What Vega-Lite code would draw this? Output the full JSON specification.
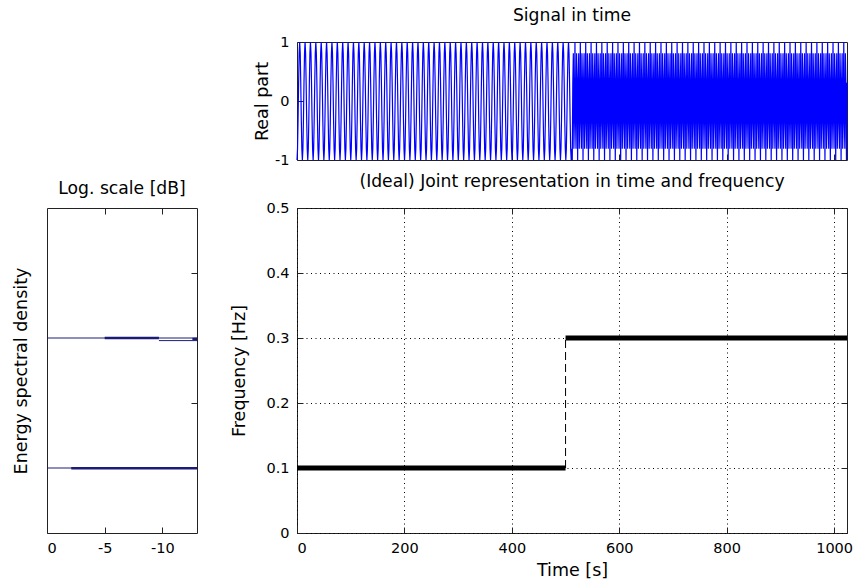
{
"$schema":"https://vega.github.io/schema/vega-lite/v6.json",
"background":"white",
"padding":{"left":11,"top":6,"right":0,"bottom":0},
"config":{
"font":"DejaVu Sans",
"view":{"stroke":"#222","strokeWidth":1},
"axis":{"domain":false,"tickColor":"#222","tickSize":-6,"labelPadding":14,"labelColor":"#000","labelFont":"DejaVu Sans","labelFontSize":14.5,"titleFont":"DejaVu Sans","titleFontSize":17.5,"titleFontWeight":"normal","titleColor":"#000","grid":false,"gridColor":"#000","gridDash":[1,3.5],"gridOpacity":1},
"title":{"font":"DejaVu Sans","fontSize":17.2,"fontWeight":"normal","color":"#000","offset":10}
},
"datasets":{
"ideal":[{"seg":"a","t":0,"f":0.1},{"seg":"a","t":500,"f":0.1},{"seg":"b","t":500,"f":0.3},{"seg":"b","t":1024,"f":0.3}],
"jump":[{"t":500,"f":0.1},{"t":500,"f":0.3}],
"esd_thin":[{"part":"a","db":0,"f":0.3},{"part":"a","db":-13,"f":0.3},{"part":"b","db":-9.7,"f":0.296},{"part":"b","db":-13,"f":0.296},{"part":"c","db":0,"f":0.1},{"part":"c","db":-13,"f":0.1}],
"esd_thick":[{"part":"a","db":-5,"f":0.3},{"part":"a","db":-9.7,"f":0.3},{"part":"b","db":-2.1,"f":0.0995},{"part":"b","db":-13,"f":0.0995},{"part":"c","db":-12.6,"f":0.2985},{"part":"c","db":-13,"f":0.2985}],
"sig":[
{"t":1,"v":-1},{"t":2,"v":-0.81},{"t":3,"v":-0.31},{"t":4,"v":0.31},{"t":5,"v":0.81},{"t":6,"v":1},{"t":7,"v":0.81},{"t":8,"v":0.31},{"t":9,"v":-0.31},{"t":10,"v":-0.81},
{"t":11,"v":-1},{"t":12,"v":-0.81},{"t":13,"v":-0.31},{"t":14,"v":0.31},{"t":15,"v":0.81},{"t":16,"v":1},{"t":17,"v":0.81},{"t":18,"v":0.31},{"t":19,"v":-0.31},{"t":20,"v":-0.81},
{"t":21,"v":-1},{"t":22,"v":-0.81},{"t":23,"v":-0.31},{"t":24,"v":0.31},{"t":25,"v":0.81},{"t":26,"v":1},{"t":27,"v":0.81},{"t":28,"v":0.31},{"t":29,"v":-0.31},{"t":30,"v":-0.81},
{"t":31,"v":-1},{"t":32,"v":-0.81},{"t":33,"v":-0.31},{"t":34,"v":0.31},{"t":35,"v":0.81},{"t":36,"v":1},{"t":37,"v":0.81},{"t":38,"v":0.31},{"t":39,"v":-0.31},{"t":40,"v":-0.81},
{"t":41,"v":-1},{"t":42,"v":-0.81},{"t":43,"v":-0.31},{"t":44,"v":0.31},{"t":45,"v":0.81},{"t":46,"v":1},{"t":47,"v":0.81},{"t":48,"v":0.31},{"t":49,"v":-0.31},{"t":50,"v":-0.81},
{"t":51,"v":-1},{"t":52,"v":-0.81},{"t":53,"v":-0.31},{"t":54,"v":0.31},{"t":55,"v":0.81},{"t":56,"v":1},{"t":57,"v":0.81},{"t":58,"v":0.31},{"t":59,"v":-0.31},{"t":60,"v":-0.81},
{"t":61,"v":-1},{"t":62,"v":-0.81},{"t":63,"v":-0.31},{"t":64,"v":0.31},{"t":65,"v":0.81},{"t":66,"v":1},{"t":67,"v":0.81},{"t":68,"v":0.31},{"t":69,"v":-0.31},{"t":70,"v":-0.81},
{"t":71,"v":-1},{"t":72,"v":-0.81},{"t":73,"v":-0.31},{"t":74,"v":0.31},{"t":75,"v":0.81},{"t":76,"v":1},{"t":77,"v":0.81},{"t":78,"v":0.31},{"t":79,"v":-0.31},{"t":80,"v":-0.81},
{"t":81,"v":-1},{"t":82,"v":-0.81},{"t":83,"v":-0.31},{"t":84,"v":0.31},{"t":85,"v":0.81},{"t":86,"v":1},{"t":87,"v":0.81},{"t":88,"v":0.31},{"t":89,"v":-0.31},{"t":90,"v":-0.81},
{"t":91,"v":-1},{"t":92,"v":-0.81},{"t":93,"v":-0.31},{"t":94,"v":0.31},{"t":95,"v":0.81},{"t":96,"v":1},{"t":97,"v":0.81},{"t":98,"v":0.31},{"t":99,"v":-0.31},{"t":100,"v":-0.81},
{"t":101,"v":-1},{"t":102,"v":-0.81},{"t":103,"v":-0.31},{"t":104,"v":0.31},{"t":105,"v":0.81},{"t":106,"v":1},{"t":107,"v":0.81},{"t":108,"v":0.31},{"t":109,"v":-0.31},{"t":110,"v":-0.81},
{"t":111,"v":-1},{"t":112,"v":-0.81},{"t":113,"v":-0.31},{"t":114,"v":0.31},{"t":115,"v":0.81},{"t":116,"v":1},{"t":117,"v":0.81},{"t":118,"v":0.31},{"t":119,"v":-0.31},{"t":120,"v":-0.81},
{"t":121,"v":-1},{"t":122,"v":-0.81},{"t":123,"v":-0.31},{"t":124,"v":0.31},{"t":125,"v":0.81},{"t":126,"v":1},{"t":127,"v":0.81},{"t":128,"v":0.31},{"t":129,"v":-0.31},{"t":130,"v":-0.81},
{"t":131,"v":-1},{"t":132,"v":-0.81},{"t":133,"v":-0.31},{"t":134,"v":0.31},{"t":135,"v":0.81},{"t":136,"v":1},{"t":137,"v":0.81},{"t":138,"v":0.31},{"t":139,"v":-0.31},{"t":140,"v":-0.81},
{"t":141,"v":-1},{"t":142,"v":-0.81},{"t":143,"v":-0.31},{"t":144,"v":0.31},{"t":145,"v":0.81},{"t":146,"v":1},{"t":147,"v":0.81},{"t":148,"v":0.31},{"t":149,"v":-0.31},{"t":150,"v":-0.81},
{"t":151,"v":-1},{"t":152,"v":-0.81},{"t":153,"v":-0.31},{"t":154,"v":0.31},{"t":155,"v":0.81},{"t":156,"v":1},{"t":157,"v":0.81},{"t":158,"v":0.31},{"t":159,"v":-0.31},{"t":160,"v":-0.81},
{"t":161,"v":-1},{"t":162,"v":-0.81},{"t":163,"v":-0.31},{"t":164,"v":0.31},{"t":165,"v":0.81},{"t":166,"v":1},{"t":167,"v":0.81},{"t":168,"v":0.31},{"t":169,"v":-0.31},{"t":170,"v":-0.81},
{"t":171,"v":-1},{"t":172,"v":-0.81},{"t":173,"v":-0.31},{"t":174,"v":0.31},{"t":175,"v":0.81},{"t":176,"v":1},{"t":177,"v":0.81},{"t":178,"v":0.31},{"t":179,"v":-0.31},{"t":180,"v":-0.81},
{"t":181,"v":-1},{"t":182,"v":-0.81},{"t":183,"v":-0.31},{"t":184,"v":0.31},{"t":185,"v":0.81},{"t":186,"v":1},{"t":187,"v":0.81},{"t":188,"v":0.31},{"t":189,"v":-0.31},{"t":190,"v":-0.81},
{"t":191,"v":-1},{"t":192,"v":-0.81},{"t":193,"v":-0.31},{"t":194,"v":0.31},{"t":195,"v":0.81},{"t":196,"v":1},{"t":197,"v":0.81},{"t":198,"v":0.31},{"t":199,"v":-0.31},{"t":200,"v":-0.81},
{"t":201,"v":-1},{"t":202,"v":-0.81},{"t":203,"v":-0.31},{"t":204,"v":0.31},{"t":205,"v":0.81},{"t":206,"v":1},{"t":207,"v":0.81},{"t":208,"v":0.31},{"t":209,"v":-0.31},{"t":210,"v":-0.81},
{"t":211,"v":-1},{"t":212,"v":-0.81},{"t":213,"v":-0.31},{"t":214,"v":0.31},{"t":215,"v":0.81},{"t":216,"v":1},{"t":217,"v":0.81},{"t":218,"v":0.31},{"t":219,"v":-0.31},{"t":220,"v":-0.81},
{"t":221,"v":-1},{"t":222,"v":-0.81},{"t":223,"v":-0.31},{"t":224,"v":0.31},{"t":225,"v":0.81},{"t":226,"v":1},{"t":227,"v":0.81},{"t":228,"v":0.31},{"t":229,"v":-0.31},{"t":230,"v":-0.81},
{"t":231,"v":-1},{"t":232,"v":-0.81},{"t":233,"v":-0.31},{"t":234,"v":0.31},{"t":235,"v":0.81},{"t":236,"v":1},{"t":237,"v":0.81},{"t":238,"v":0.31},{"t":239,"v":-0.31},{"t":240,"v":-0.81},
{"t":241,"v":-1},{"t":242,"v":-0.81},{"t":243,"v":-0.31},{"t":244,"v":0.31},{"t":245,"v":0.81},{"t":246,"v":1},{"t":247,"v":0.81},{"t":248,"v":0.31},{"t":249,"v":-0.31},{"t":250,"v":-0.81},
{"t":251,"v":-1},{"t":252,"v":-0.81},{"t":253,"v":-0.31},{"t":254,"v":0.31},{"t":255,"v":0.81},{"t":256,"v":1},{"t":257,"v":0.81},{"t":258,"v":0.31},{"t":259,"v":-0.31},{"t":260,"v":-0.81},
{"t":261,"v":-1},{"t":262,"v":-0.81},{"t":263,"v":-0.31},{"t":264,"v":0.31},{"t":265,"v":0.81},{"t":266,"v":1},{"t":267,"v":0.81},{"t":268,"v":0.31},{"t":269,"v":-0.31},{"t":270,"v":-0.81},
{"t":271,"v":-1},{"t":272,"v":-0.81},{"t":273,"v":-0.31},{"t":274,"v":0.31},{"t":275,"v":0.81},{"t":276,"v":1},{"t":277,"v":0.81},{"t":278,"v":0.31},{"t":279,"v":-0.31},{"t":280,"v":-0.81},
{"t":281,"v":-1},{"t":282,"v":-0.81},{"t":283,"v":-0.31},{"t":284,"v":0.31},{"t":285,"v":0.81},{"t":286,"v":1},{"t":287,"v":0.81},{"t":288,"v":0.31},{"t":289,"v":-0.31},{"t":290,"v":-0.81},
{"t":291,"v":-1},{"t":292,"v":-0.81},{"t":293,"v":-0.31},{"t":294,"v":0.31},{"t":295,"v":0.81},{"t":296,"v":1},{"t":297,"v":0.81},{"t":298,"v":0.31},{"t":299,"v":-0.31},{"t":300,"v":-0.81},
{"t":301,"v":-1},{"t":302,"v":-0.81},{"t":303,"v":-0.31},{"t":304,"v":0.31},{"t":305,"v":0.81},{"t":306,"v":1},{"t":307,"v":0.81},{"t":308,"v":0.31},{"t":309,"v":-0.31},{"t":310,"v":-0.81},
{"t":311,"v":-1},{"t":312,"v":-0.81},{"t":313,"v":-0.31},{"t":314,"v":0.31},{"t":315,"v":0.81},{"t":316,"v":1},{"t":317,"v":0.81},{"t":318,"v":0.31},{"t":319,"v":-0.31},{"t":320,"v":-0.81},
{"t":321,"v":-1},{"t":322,"v":-0.81},{"t":323,"v":-0.31},{"t":324,"v":0.31},{"t":325,"v":0.81},{"t":326,"v":1},{"t":327,"v":0.81},{"t":328,"v":0.31},{"t":329,"v":-0.31},{"t":330,"v":-0.81},
{"t":331,"v":-1},{"t":332,"v":-0.81},{"t":333,"v":-0.31},{"t":334,"v":0.31},{"t":335,"v":0.81},{"t":336,"v":1},{"t":337,"v":0.81},{"t":338,"v":0.31},{"t":339,"v":-0.31},{"t":340,"v":-0.81},
{"t":341,"v":-1},{"t":342,"v":-0.81},{"t":343,"v":-0.31},{"t":344,"v":0.31},{"t":345,"v":0.81},{"t":346,"v":1},{"t":347,"v":0.81},{"t":348,"v":0.31},{"t":349,"v":-0.31},{"t":350,"v":-0.81},
{"t":351,"v":-1},{"t":352,"v":-0.81},{"t":353,"v":-0.31},{"t":354,"v":0.31},{"t":355,"v":0.81},{"t":356,"v":1},{"t":357,"v":0.81},{"t":358,"v":0.31},{"t":359,"v":-0.31},{"t":360,"v":-0.81},
{"t":361,"v":-1},{"t":362,"v":-0.81},{"t":363,"v":-0.31},{"t":364,"v":0.31},{"t":365,"v":0.81},{"t":366,"v":1},{"t":367,"v":0.81},{"t":368,"v":0.31},{"t":369,"v":-0.31},{"t":370,"v":-0.81},
{"t":371,"v":-1},{"t":372,"v":-0.81},{"t":373,"v":-0.31},{"t":374,"v":0.31},{"t":375,"v":0.81},{"t":376,"v":1},{"t":377,"v":0.81},{"t":378,"v":0.31},{"t":379,"v":-0.31},{"t":380,"v":-0.81},
{"t":381,"v":-1},{"t":382,"v":-0.81},{"t":383,"v":-0.31},{"t":384,"v":0.31},{"t":385,"v":0.81},{"t":386,"v":1},{"t":387,"v":0.81},{"t":388,"v":0.31},{"t":389,"v":-0.31},{"t":390,"v":-0.81},
{"t":391,"v":-1},{"t":392,"v":-0.81},{"t":393,"v":-0.31},{"t":394,"v":0.31},{"t":395,"v":0.81},{"t":396,"v":1},{"t":397,"v":0.81},{"t":398,"v":0.31},{"t":399,"v":-0.31},{"t":400,"v":-0.81},
{"t":401,"v":-1},{"t":402,"v":-0.81},{"t":403,"v":-0.31},{"t":404,"v":0.31},{"t":405,"v":0.81},{"t":406,"v":1},{"t":407,"v":0.81},{"t":408,"v":0.31},{"t":409,"v":-0.31},{"t":410,"v":-0.81},
{"t":411,"v":-1},{"t":412,"v":-0.81},{"t":413,"v":-0.31},{"t":414,"v":0.31},{"t":415,"v":0.81},{"t":416,"v":1},{"t":417,"v":0.81},{"t":418,"v":0.31},{"t":419,"v":-0.31},{"t":420,"v":-0.81},
{"t":421,"v":-1},{"t":422,"v":-0.81},{"t":423,"v":-0.31},{"t":424,"v":0.31},{"t":425,"v":0.81},{"t":426,"v":1},{"t":427,"v":0.81},{"t":428,"v":0.31},{"t":429,"v":-0.31},{"t":430,"v":-0.81},
{"t":431,"v":-1},{"t":432,"v":-0.81},{"t":433,"v":-0.31},{"t":434,"v":0.31},{"t":435,"v":0.81},{"t":436,"v":1},{"t":437,"v":0.81},{"t":438,"v":0.31},{"t":439,"v":-0.31},{"t":440,"v":-0.81},
{"t":441,"v":-1},{"t":442,"v":-0.81},{"t":443,"v":-0.31},{"t":444,"v":0.31},{"t":445,"v":0.81},{"t":446,"v":1},{"t":447,"v":0.81},{"t":448,"v":0.31},{"t":449,"v":-0.31},{"t":450,"v":-0.81},
{"t":451,"v":-1},{"t":452,"v":-0.81},{"t":453,"v":-0.31},{"t":454,"v":0.31},{"t":455,"v":0.81},{"t":456,"v":1},{"t":457,"v":0.81},{"t":458,"v":0.31},{"t":459,"v":-0.31},{"t":460,"v":-0.81},
{"t":461,"v":-1},{"t":462,"v":-0.81},{"t":463,"v":-0.31},{"t":464,"v":0.31},{"t":465,"v":0.81},{"t":466,"v":1},{"t":467,"v":0.81},{"t":468,"v":0.31},{"t":469,"v":-0.31},{"t":470,"v":-0.81},
{"t":471,"v":-1},{"t":472,"v":-0.81},{"t":473,"v":-0.31},{"t":474,"v":0.31},{"t":475,"v":0.81},{"t":476,"v":1},{"t":477,"v":0.81},{"t":478,"v":0.31},{"t":479,"v":-0.31},{"t":480,"v":-0.81},
{"t":481,"v":-1},{"t":482,"v":-0.81},{"t":483,"v":-0.31},{"t":484,"v":0.31},{"t":485,"v":0.81},{"t":486,"v":1},{"t":487,"v":0.81},{"t":488,"v":0.31},{"t":489,"v":-0.31},{"t":490,"v":-0.81},
{"t":491,"v":-1},{"t":492,"v":-0.81},{"t":493,"v":-0.31},{"t":494,"v":0.31},{"t":495,"v":0.81},{"t":496,"v":1},{"t":497,"v":0.81},{"t":498,"v":0.31},{"t":499,"v":-0.31},{"t":500,"v":-0.81},
{"t":501,"v":-1},{"t":502,"v":-0.81},{"t":503,"v":-0.31},{"t":504,"v":0.31},{"t":505,"v":0.81},{"t":506,"v":1},{"t":507,"v":0.81},{"t":508,"v":0.31},{"t":509,"v":-0.31},{"t":510,"v":-0.81},
{"t":511,"v":-1},{"t":512,"v":-0.81},
{"t":513,"v":-1},{"t":514,"v":0.31},{"t":515,"v":0.81},{"t":516,"v":-0.81},{"t":517,"v":-0.31},{"t":518,"v":1},{"t":519,"v":-0.31},{"t":520,"v":-0.81},{"t":521,"v":0.81},{"t":522,"v":0.31},
{"t":523,"v":-1},{"t":524,"v":0.31},{"t":525,"v":0.81},{"t":526,"v":-0.81},{"t":527,"v":-0.31},{"t":528,"v":1},{"t":529,"v":-0.31},{"t":530,"v":-0.81},{"t":531,"v":0.81},{"t":532,"v":0.31},
{"t":533,"v":-1},{"t":534,"v":0.31},{"t":535,"v":0.81},{"t":536,"v":-0.81},{"t":537,"v":-0.31},{"t":538,"v":1},{"t":539,"v":-0.31},{"t":540,"v":-0.81},{"t":541,"v":0.81},{"t":542,"v":0.31},
{"t":543,"v":-1},{"t":544,"v":0.31},{"t":545,"v":0.81},{"t":546,"v":-0.81},{"t":547,"v":-0.31},{"t":548,"v":1},{"t":549,"v":-0.31},{"t":550,"v":-0.81},{"t":551,"v":0.81},{"t":552,"v":0.31},
{"t":553,"v":-1},{"t":554,"v":0.31},{"t":555,"v":0.81},{"t":556,"v":-0.81},{"t":557,"v":-0.31},{"t":558,"v":1},{"t":559,"v":-0.31},{"t":560,"v":-0.81},{"t":561,"v":0.81},{"t":562,"v":0.31},
{"t":563,"v":-1},{"t":564,"v":0.31},{"t":565,"v":0.81},{"t":566,"v":-0.81},{"t":567,"v":-0.31},{"t":568,"v":1},{"t":569,"v":-0.31},{"t":570,"v":-0.81},{"t":571,"v":0.81},{"t":572,"v":0.31},
{"t":573,"v":-1},{"t":574,"v":0.31},{"t":575,"v":0.81},{"t":576,"v":-0.81},{"t":577,"v":-0.31},{"t":578,"v":1},{"t":579,"v":-0.31},{"t":580,"v":-0.81},{"t":581,"v":0.81},{"t":582,"v":0.31},
{"t":583,"v":-1},{"t":584,"v":0.31},{"t":585,"v":0.81},{"t":586,"v":-0.81},{"t":587,"v":-0.31},{"t":588,"v":1},{"t":589,"v":-0.31},{"t":590,"v":-0.81},{"t":591,"v":0.81},{"t":592,"v":0.31},
{"t":593,"v":-1},{"t":594,"v":0.31},{"t":595,"v":0.81},{"t":596,"v":-0.81},{"t":597,"v":-0.31},{"t":598,"v":1},{"t":599,"v":-0.31},{"t":600,"v":-0.81},{"t":601,"v":0.81},{"t":602,"v":0.31},
{"t":603,"v":-1},{"t":604,"v":0.31},{"t":605,"v":0.81},{"t":606,"v":-0.81},{"t":607,"v":-0.31},{"t":608,"v":1},{"t":609,"v":-0.31},{"t":610,"v":-0.81},{"t":611,"v":0.81},{"t":612,"v":0.31},
{"t":613,"v":-1},{"t":614,"v":0.31},{"t":615,"v":0.81},{"t":616,"v":-0.81},{"t":617,"v":-0.31},{"t":618,"v":1},{"t":619,"v":-0.31},{"t":620,"v":-0.81},{"t":621,"v":0.81},{"t":622,"v":0.31},
{"t":623,"v":-1},{"t":624,"v":0.31},{"t":625,"v":0.81},{"t":626,"v":-0.81},{"t":627,"v":-0.31},{"t":628,"v":1},{"t":629,"v":-0.31},{"t":630,"v":-0.81},{"t":631,"v":0.81},{"t":632,"v":0.31},
{"t":633,"v":-1},{"t":634,"v":0.31},{"t":635,"v":0.81},{"t":636,"v":-0.81},{"t":637,"v":-0.31},{"t":638,"v":1},{"t":639,"v":-0.31},{"t":640,"v":-0.81},{"t":641,"v":0.81},{"t":642,"v":0.31},
{"t":643,"v":-1},{"t":644,"v":0.31},{"t":645,"v":0.81},{"t":646,"v":-0.81},{"t":647,"v":-0.31},{"t":648,"v":1},{"t":649,"v":-0.31},{"t":650,"v":-0.81},{"t":651,"v":0.81},{"t":652,"v":0.31},
{"t":653,"v":-1},{"t":654,"v":0.31},{"t":655,"v":0.81},{"t":656,"v":-0.81},{"t":657,"v":-0.31},{"t":658,"v":1},{"t":659,"v":-0.31},{"t":660,"v":-0.81},{"t":661,"v":0.81},{"t":662,"v":0.31},
{"t":663,"v":-1},{"t":664,"v":0.31},{"t":665,"v":0.81},{"t":666,"v":-0.81},{"t":667,"v":-0.31},{"t":668,"v":1},{"t":669,"v":-0.31},{"t":670,"v":-0.81},{"t":671,"v":0.81},{"t":672,"v":0.31},
{"t":673,"v":-1},{"t":674,"v":0.31},{"t":675,"v":0.81},{"t":676,"v":-0.81},{"t":677,"v":-0.31},{"t":678,"v":1},{"t":679,"v":-0.31},{"t":680,"v":-0.81},{"t":681,"v":0.81},{"t":682,"v":0.31},
{"t":683,"v":-1},{"t":684,"v":0.31},{"t":685,"v":0.81},{"t":686,"v":-0.81},{"t":687,"v":-0.31},{"t":688,"v":1},{"t":689,"v":-0.31},{"t":690,"v":-0.81},{"t":691,"v":0.81},{"t":692,"v":0.31},
{"t":693,"v":-1},{"t":694,"v":0.31},{"t":695,"v":0.81},{"t":696,"v":-0.81},{"t":697,"v":-0.31},{"t":698,"v":1},{"t":699,"v":-0.31},{"t":700,"v":-0.81},{"t":701,"v":0.81},{"t":702,"v":0.31},
{"t":703,"v":-1},{"t":704,"v":0.31},{"t":705,"v":0.81},{"t":706,"v":-0.81},{"t":707,"v":-0.31},{"t":708,"v":1},{"t":709,"v":-0.31},{"t":710,"v":-0.81},{"t":711,"v":0.81},{"t":712,"v":0.31},
{"t":713,"v":-1},{"t":714,"v":0.31},{"t":715,"v":0.81},{"t":716,"v":-0.81},{"t":717,"v":-0.31},{"t":718,"v":1},{"t":719,"v":-0.31},{"t":720,"v":-0.81},{"t":721,"v":0.81},{"t":722,"v":0.31},
{"t":723,"v":-1},{"t":724,"v":0.31},{"t":725,"v":0.81},{"t":726,"v":-0.81},{"t":727,"v":-0.31},{"t":728,"v":1},{"t":729,"v":-0.31},{"t":730,"v":-0.81},{"t":731,"v":0.81},{"t":732,"v":0.31},
{"t":733,"v":-1},{"t":734,"v":0.31},{"t":735,"v":0.81},{"t":736,"v":-0.81},{"t":737,"v":-0.31},{"t":738,"v":1},{"t":739,"v":-0.31},{"t":740,"v":-0.81},{"t":741,"v":0.81},{"t":742,"v":0.31},
{"t":743,"v":-1},{"t":744,"v":0.31},{"t":745,"v":0.81},{"t":746,"v":-0.81},{"t":747,"v":-0.31},{"t":748,"v":1},{"t":749,"v":-0.31},{"t":750,"v":-0.81},{"t":751,"v":0.81},{"t":752,"v":0.31},
{"t":753,"v":-1},{"t":754,"v":0.31},{"t":755,"v":0.81},{"t":756,"v":-0.81},{"t":757,"v":-0.31},{"t":758,"v":1},{"t":759,"v":-0.31},{"t":760,"v":-0.81},{"t":761,"v":0.81},{"t":762,"v":0.31},
{"t":763,"v":-1},{"t":764,"v":0.31},{"t":765,"v":0.81},{"t":766,"v":-0.81},{"t":767,"v":-0.31},{"t":768,"v":1},{"t":769,"v":-0.31},{"t":770,"v":-0.81},{"t":771,"v":0.81},{"t":772,"v":0.31},
{"t":773,"v":-1},{"t":774,"v":0.31},{"t":775,"v":0.81},{"t":776,"v":-0.81},{"t":777,"v":-0.31},{"t":778,"v":1},{"t":779,"v":-0.31},{"t":780,"v":-0.81},{"t":781,"v":0.81},{"t":782,"v":0.31},
{"t":783,"v":-1},{"t":784,"v":0.31},{"t":785,"v":0.81},{"t":786,"v":-0.81},{"t":787,"v":-0.31},{"t":788,"v":1},{"t":789,"v":-0.31},{"t":790,"v":-0.81},{"t":791,"v":0.81},{"t":792,"v":0.31},
{"t":793,"v":-1},{"t":794,"v":0.31},{"t":795,"v":0.81},{"t":796,"v":-0.81},{"t":797,"v":-0.31},{"t":798,"v":1},{"t":799,"v":-0.31},{"t":800,"v":-0.81},{"t":801,"v":0.81},{"t":802,"v":0.31},
{"t":803,"v":-1},{"t":804,"v":0.31},{"t":805,"v":0.81},{"t":806,"v":-0.81},{"t":807,"v":-0.31},{"t":808,"v":1},{"t":809,"v":-0.31},{"t":810,"v":-0.81},{"t":811,"v":0.81},{"t":812,"v":0.31},
{"t":813,"v":-1},{"t":814,"v":0.31},{"t":815,"v":0.81},{"t":816,"v":-0.81},{"t":817,"v":-0.31},{"t":818,"v":1},{"t":819,"v":-0.31},{"t":820,"v":-0.81},{"t":821,"v":0.81},{"t":822,"v":0.31},
{"t":823,"v":-1},{"t":824,"v":0.31},{"t":825,"v":0.81},{"t":826,"v":-0.81},{"t":827,"v":-0.31},{"t":828,"v":1},{"t":829,"v":-0.31},{"t":830,"v":-0.81},{"t":831,"v":0.81},{"t":832,"v":0.31},
{"t":833,"v":-1},{"t":834,"v":0.31},{"t":835,"v":0.81},{"t":836,"v":-0.81},{"t":837,"v":-0.31},{"t":838,"v":1},{"t":839,"v":-0.31},{"t":840,"v":-0.81},{"t":841,"v":0.81},{"t":842,"v":0.31},
{"t":843,"v":-1},{"t":844,"v":0.31},{"t":845,"v":0.81},{"t":846,"v":-0.81},{"t":847,"v":-0.31},{"t":848,"v":1},{"t":849,"v":-0.31},{"t":850,"v":-0.81},{"t":851,"v":0.81},{"t":852,"v":0.31},
{"t":853,"v":-1},{"t":854,"v":0.31},{"t":855,"v":0.81},{"t":856,"v":-0.81},{"t":857,"v":-0.31},{"t":858,"v":1},{"t":859,"v":-0.31},{"t":860,"v":-0.81},{"t":861,"v":0.81},{"t":862,"v":0.31},
{"t":863,"v":-1},{"t":864,"v":0.31},{"t":865,"v":0.81},{"t":866,"v":-0.81},{"t":867,"v":-0.31},{"t":868,"v":1},{"t":869,"v":-0.31},{"t":870,"v":-0.81},{"t":871,"v":0.81},{"t":872,"v":0.31},
{"t":873,"v":-1},{"t":874,"v":0.31},{"t":875,"v":0.81},{"t":876,"v":-0.81},{"t":877,"v":-0.31},{"t":878,"v":1},{"t":879,"v":-0.31},{"t":880,"v":-0.81},{"t":881,"v":0.81},{"t":882,"v":0.31},
{"t":883,"v":-1},{"t":884,"v":0.31},{"t":885,"v":0.81},{"t":886,"v":-0.81},{"t":887,"v":-0.31},{"t":888,"v":1},{"t":889,"v":-0.31},{"t":890,"v":-0.81},{"t":891,"v":0.81},{"t":892,"v":0.31},
{"t":893,"v":-1},{"t":894,"v":0.31},{"t":895,"v":0.81},{"t":896,"v":-0.81},{"t":897,"v":-0.31},{"t":898,"v":1},{"t":899,"v":-0.31},{"t":900,"v":-0.81},{"t":901,"v":0.81},{"t":902,"v":0.31},
{"t":903,"v":-1},{"t":904,"v":0.31},{"t":905,"v":0.81},{"t":906,"v":-0.81},{"t":907,"v":-0.31},{"t":908,"v":1},{"t":909,"v":-0.31},{"t":910,"v":-0.81},{"t":911,"v":0.81},{"t":912,"v":0.31},
{"t":913,"v":-1},{"t":914,"v":0.31},{"t":915,"v":0.81},{"t":916,"v":-0.81},{"t":917,"v":-0.31},{"t":918,"v":1},{"t":919,"v":-0.31},{"t":920,"v":-0.81},{"t":921,"v":0.81},{"t":922,"v":0.31},
{"t":923,"v":-1},{"t":924,"v":0.31},{"t":925,"v":0.81},{"t":926,"v":-0.81},{"t":927,"v":-0.31},{"t":928,"v":1},{"t":929,"v":-0.31},{"t":930,"v":-0.81},{"t":931,"v":0.81},{"t":932,"v":0.31},
{"t":933,"v":-1},{"t":934,"v":0.31},{"t":935,"v":0.81},{"t":936,"v":-0.81},{"t":937,"v":-0.31},{"t":938,"v":1},{"t":939,"v":-0.31},{"t":940,"v":-0.81},{"t":941,"v":0.81},{"t":942,"v":0.31},
{"t":943,"v":-1},{"t":944,"v":0.31},{"t":945,"v":0.81},{"t":946,"v":-0.81},{"t":947,"v":-0.31},{"t":948,"v":1},{"t":949,"v":-0.31},{"t":950,"v":-0.81},{"t":951,"v":0.81},{"t":952,"v":0.31},
{"t":953,"v":-1},{"t":954,"v":0.31},{"t":955,"v":0.81},{"t":956,"v":-0.81},{"t":957,"v":-0.31},{"t":958,"v":1},{"t":959,"v":-0.31},{"t":960,"v":-0.81},{"t":961,"v":0.81},{"t":962,"v":0.31},
{"t":963,"v":-1},{"t":964,"v":0.31},{"t":965,"v":0.81},{"t":966,"v":-0.81},{"t":967,"v":-0.31},{"t":968,"v":1},{"t":969,"v":-0.31},{"t":970,"v":-0.81},{"t":971,"v":0.81},{"t":972,"v":0.31},
{"t":973,"v":-1},{"t":974,"v":0.31},{"t":975,"v":0.81},{"t":976,"v":-0.81},{"t":977,"v":-0.31},{"t":978,"v":1},{"t":979,"v":-0.31},{"t":980,"v":-0.81},{"t":981,"v":0.81},{"t":982,"v":0.31},
{"t":983,"v":-1},{"t":984,"v":0.31},{"t":985,"v":0.81},{"t":986,"v":-0.81},{"t":987,"v":-0.31},{"t":988,"v":1},{"t":989,"v":-0.31},{"t":990,"v":-0.81},{"t":991,"v":0.81},{"t":992,"v":0.31},
{"t":993,"v":-1},{"t":994,"v":0.31},{"t":995,"v":0.81},{"t":996,"v":-0.81},{"t":997,"v":-0.31},{"t":998,"v":1},{"t":999,"v":-0.31},{"t":1000,"v":-0.81},{"t":1001,"v":0.81},{"t":1002,"v":0.31},
{"t":1003,"v":-1},{"t":1004,"v":0.31},{"t":1005,"v":0.81},{"t":1006,"v":-0.81},{"t":1007,"v":-0.31},{"t":1008,"v":1},{"t":1009,"v":-0.31},{"t":1010,"v":-0.81},{"t":1011,"v":0.81},{"t":1012,"v":0.31},
{"t":1013,"v":-1},{"t":1014,"v":0.31},{"t":1015,"v":0.81},{"t":1016,"v":-0.81},{"t":1017,"v":-0.31},{"t":1018,"v":1},{"t":1019,"v":-0.31},{"t":1020,"v":-0.81},{"t":1021,"v":0.81},{"t":1022,"v":0.31},
{"t":1023,"v":-1},{"t":1024,"v":0.31}
]
},
"columns":2,
"spacing":{"row":48,"column":100},
"bounds":"flush",
"concat":[
{"width":150,"height":118,"data":{"values":[]},"mark":{"type":"point","opacity":0},"view":{"stroke":null}},
{"width":550,"height":118,"title":"Signal in time",
"data":{"name":"sig"},
"mark":{"type":"line","color":"#0000ff","strokeWidth":1.2},
"encoding":{
"x":{"field":"t","type":"quantitative","scale":{"domain":[1,1024],"nice":false,"zero":false},"axis":{"values":[200,400,600,800,1000],"labels":false,"title":null}},
"y":{"field":"v","type":"quantitative","scale":{"domain":[-1,1],"nice":false,"zero":false},"axis":{"values":[-1,0,1],"labelOverlap":false,"title":"Real part","titlePadding":3,"labelExpr":"datum.value > 0.5 ? '1' : (datum.value < -0.5 ? '-1' : '0')"}}
}},
{"width":150,"height":325,"title":"Log. scale [dB]",
"layer":[
{"data":{"name":"esd_thin"},"mark":{"type":"line","color":"#1c1c78","strokeWidth":1},
"encoding":{
"x":{"field":"db","type":"quantitative","scale":{"domain":[-13,0],"reverse":true,"nice":false,"zero":false},"axis":{"values":[0,-5,-10],"format":"d","title":null,"labelExpr":"replace(datum.label,'−','-')"}},
"y":{"field":"f","type":"quantitative","scale":{"domain":[0,0.5],"nice":false},"axis":{"title":"Energy spectral density","labels":false,"ticks":false,"titlePadding":17}},
"detail":{"field":"part"}}},
{"data":{"name":"esd_thick"},"mark":{"type":"line","color":"#1c1c78","strokeWidth":2.5},
"encoding":{
"x":{"field":"db","type":"quantitative","axis":{"orient":"top","values":[-5,-10],"labels":false,"title":null}},
"y":{"field":"f","type":"quantitative","axis":{"orient":"right","values":[0.2,0.4],"labels":false,"title":null}},
"detail":{"field":"part"}}}
],
"resolve":{"axis":{"x":"independent","y":"independent"}}},
{"width":550,"height":325,"title":"(Ideal) Joint representation in time and frequency",
"layer":[
{"data":{"name":"ideal"},"mark":{"type":"line","color":"#000","strokeWidth":5,"strokeCap":"butt"},
"encoding":{
"x":{"field":"t","type":"quantitative","scale":{"domain":[0,1024],"nice":false},"axis":{"values":[0,200,400,600,800,1000],"format":"d","grid":true,"title":"Time [s]","titlePadding":7}},
"y":{"field":"f","type":"quantitative","scale":{"domain":[0,0.5],"nice":false},"axis":{"values":[0,0.1,0.2,0.3,0.4,0.5],"format":"~g","grid":true,"title":"Frequency [Hz]","titlePadding":17}},
"detail":{"field":"seg"}}},
{"data":{"name":"jump"},"mark":{"type":"line","color":"#000","strokeWidth":1,"strokeDash":[8,4]},
"encoding":{
"x":{"field":"t","type":"quantitative","axis":{"orient":"top","values":[200,400,600,800,1000],"labels":false,"title":null}},
"y":{"field":"f","type":"quantitative","axis":{"orient":"right","values":[0.1,0.2,0.3,0.4],"labels":false,"title":null}}}}
],
"resolve":{"axis":{"x":"independent","y":"independent"}}}
]
}
